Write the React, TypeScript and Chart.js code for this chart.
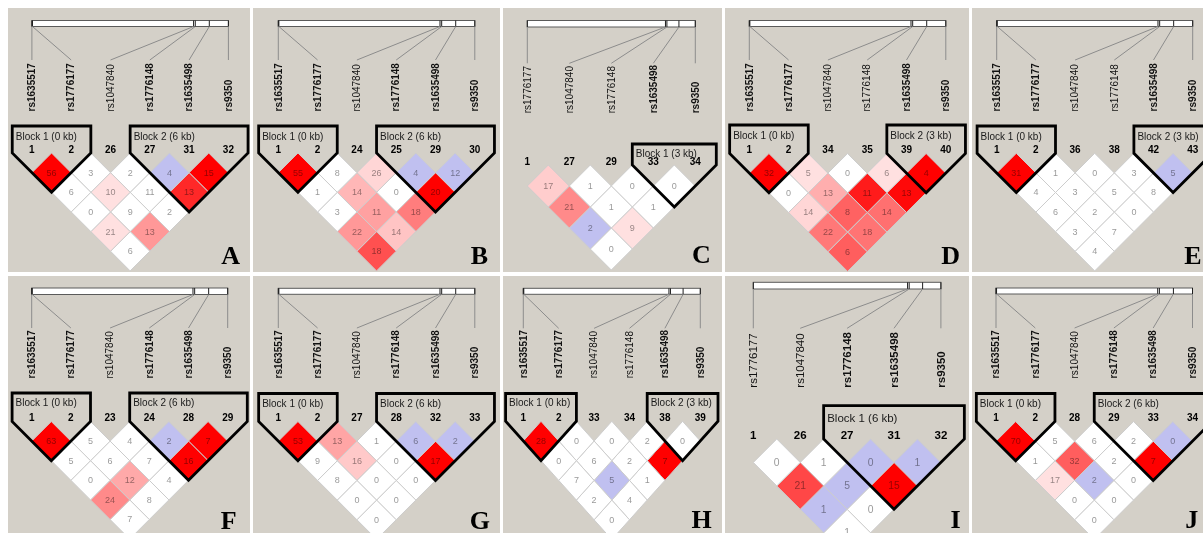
import React, { useEffect, useRef } from "react";
import { Chart, registerables } from "chart.js";

Chart.register(...registerables);

const SANS = '"Liberation Sans", Arial, Helvetica, sans-serif';
const SERIF = '"Liberation Serif", "Times New Roman", Times, serif';

// SNPs along the gene and their map positions (kb from the first SNP)
const snpNames = ["rs1635517", "rs1776177", "rs1047840", "rs1776148", "rs1635498", "rs9350"];
const snpKb = [0, 0.1, 28.8, 29.1, 31.6, 35.0];

// Each panel: SNPs shown (indices into snpNames), marker numbers, haplotype blocks,
// and pairwise r2 (x100), D' and LOD, stored row by row: row i holds pairs (i, i+1..n-1).

// ---- A ----
const markersA = [0, 1, 2, 3, 4, 5];
const idsA = [1, 2, 26, 27, 31, 32];
const blocksA = [[0, 1], [3, 5]];
const r2A = [[56, 6, 0, 21, 6], [3, 10, 9, 13], [2, 11, 2], [4, 13], [15]];
const dpA = [[1, 0.3, 0.2, 0.45, 0.3], [0.4, 0.45, 0.3, 0.66], [0.2, 0.4, 0.3], [1, 0.91], [1]];
const lodA = [[12, 0.6, 0.1, 3.1, 0.8], [0.4, 2.6, 1.1, 2.8], [0.3, 1.6, 0.4], [1.2, 2.9], [3.5]];

// ---- B ----
const markersB = [0, 1, 2, 3, 4, 5];
const idsB = [1, 2, 24, 25, 29, 30];
const blocksB = [[0, 1], [3, 5]];
const r2B = [[55, 1, 3, 22, 18], [8, 14, 11, 14], [26, 0, 18], [4, 20], [12]];
const dpB = [[1, 0.3, 0.4, 0.66, 0.82], [0.5, 0.59, 0.64, 0.56], [0.52, 0.1, 0.72], [1, 1], [1]];
const lodB = [[11, 0.2, 0.7, 3.5, 3.2], [1.4, 2.5, 2.4, 2.3], [4.2, 0.1, 2.9], [0.8, 3.6], [1.9]];

// ---- C ----
const markersC = [1, 2, 3, 4, 5];
const idsC = [1, 27, 29, 33, 34];
const blocksC = [[3, 4]];
const r2C = [[17, 21, 2, 0], [1, 1, 9], [0, 1], [0]];
const dpC = [[0.54, 0.69, 1, 0.2], [0.3, 0.4, 0.45], [0.1, 0.5], [0.6]];
const lodC = [[3.3, 4.1, 0.6, 0.1], [0.2, 0.3, 2.2], [0.1, 0.3], [0.4]];

// ---- D ----
const markersD = [0, 1, 2, 3, 4, 5];
const idsD = [1, 2, 34, 35, 39, 40];
const blocksD = [[0, 1], [4, 5]];
const r2D = [[32, 0, 14, 22, 6], [5, 13, 8, 18], [0, 11, 14], [6, 13], [4]];
const dpD = [[1, 0.2, 0.52, 0.73, 0.79], [0.45, 0.61, 0.78, 0.74], [0.1, 0.94, 0.75], [0.45, 0.98], [1]];
const lodD = [[8, 0.1, 3.6, 5.4, 2.1], [2.2, 3.3, 2.4, 4.6], [0.1, 3.1, 3.9], [2.1, 4.2], [2.4]];

// ---- E ----
const markersE = [0, 1, 2, 3, 4, 5];
const idsE = [1, 2, 36, 38, 42, 43];
const blocksE = [[0, 1], [4, 5]];
const r2E = [[31, 4, 6, 3, 4], [1, 3, 2, 7], [0, 5, 0], [3, 8], [5]];
const dpE = [[1, 0.5, 0.6, 0.4, 0.5], [0.3, 0.4, 0.3, 0.7], [0.1, 0.6, 0.1], [0.4, 0.6], [1]];
const lodE = [[7, 0.9, 1.2, 0.6, 0.8], [0.2, 0.6, 0.3, 1.3], [0.1, 0.9, 0.1], [0.5, 1.5], [1.1]];

// ---- F ----
const markersF = [0, 1, 2, 3, 4, 5];
const idsF = [1, 2, 23, 24, 28, 29];
const blocksF = [[0, 1], [3, 5]];
const r2F = [[63, 5, 0, 24, 7], [5, 6, 12, 8], [4, 7, 4], [2, 16], [7]];
const dpF = [[1, 0.5, 0.1, 0.69, 0.6], [0.5, 0.5, 0.62, 0.6], [0.4, 0.5, 0.4], [1, 1], [1]];
const lodF = [[14, 1.0, 0.1, 4.8, 1.4], [0.9, 1.2, 2.6, 1.6], [0.8, 1.4, 0.9], [0.6, 3.3], [2.2]];

// ---- G ----
const markersG = [0, 1, 2, 3, 4, 5];
const idsG = [1, 2, 27, 28, 32, 33];
const blocksG = [[0, 1], [3, 5]];
const r2G = [[53, 9, 8, 0, 0], [13, 16, 0, 0], [1, 0, 0], [6, 17], [2]];
const dpG = [[1, 0.6, 0.6, 0.1, 0.1], [0.63, 0.55, 0.1, 0.1], [0.3, 0.1, 0.1], [1, 1], [1]];
const lodG = [[11, 1.7, 1.5, 0.1, 0.1], [2.7, 3.1, 0.1, 0.1], [0.2, 0.1, 0.1], [1.1, 3.4], [0.5]];

// ---- H ----
const markersH = [0, 1, 2, 3, 4, 5];
const idsH = [1, 2, 33, 34, 38, 39];
const blocksH = [[0, 1], [4, 5]];
const r2H = [[28, 0, 7, 2, 0], [0, 6, 5, 4], [0, 2, 1], [2, 7], [0]];
const dpH = [[1, 0.1, 0.6, 0.3, 0.1], [0.1, 0.5, 1, 0.5], [0.1, 0.3, 0.2], [0.3, 1], [0.1]];
const lodH = [[6, 0.1, 1.3, 0.4, 0.1], [0.1, 1.2, 1.1, 0.8], [0.1, 0.4, 0.2], [0.4, 2.3], [0.1]];

// ---- I ----
const markersI = [1, 2, 3, 4, 5];
const idsI = [1, 26, 27, 31, 32];
const blocksI = [[2, 4]];
const r2I = [[0, 21, 1, 1], [1, 5, 0], [0, 15], [1]];
const dpI = [[0.1, 0.84, 1, 0.3], [0.3, 1, 0.1], [1, 1], [1]];
const lodI = [[0.1, 4.4, 0.3, 0.2], [0.2, 1.0, 0.1], [0.1, 3.0], [0.3]];

// ---- J ----
const markersJ = [0, 1, 2, 3, 4, 5];
const idsJ = [1, 2, 28, 29, 33, 34];
const blocksJ = [[0, 1], [3, 5]];
const r2J = [[70, 1, 17, 0, 0], [5, 32, 2, 0], [6, 2, 0], [2, 7], [0]];
const dpJ = [[1, 0.3, 0.45, 0.1, 0.1], [0.5, 0.79, 1, 0.1], [0.6, 0.3, 0.1], [0.4, 1], [1]];
const lodJ = [[16, 0.2, 2.9, 0.1, 0.1], [1.1, 6.2, 0.9, 0.1], [1.4, 0.4, 0.1], [0.5, 2.2], [0.3]];

type Layout = {
  left: number; top: number; width: number; height: number;
  x0: number; sx: number; sy: number; topLine: number;
  barTop: number; barH: number; lineEnd: number; labelBase: number;
  blockTop: number; blockText: number; fs: number; letterX: number; letterY: number;
};

type Panel = {
  letter: string; markers: number[]; ids: number[]; blocks: number[][];
  r2: number[][]; dp: number[][]; lod: number[][]; layout: Layout;
};

const base = { sx: 39.3, sy: 39.3, barTop: 12.5, barH: 6, lineEnd: 52, labelBase: 103.5, blockTop: 118, blockText: 129, fs: 1 };

const panels: Panel[] = [
  { letter: "A", markers: markersA, ids: idsA, blocks: blocksA, r2: r2A, dp: dpA, lod: lodA,
    layout: { ...base, left: 8, top: 8, width: 242, height: 264, x0: 23.9, topLine: 145, letterX: 232, letterY: 255.5 } },
  { letter: "B", markers: markersB, ids: idsB, blocks: blocksB, r2: r2B, dp: dpB, lod: lodB,
    layout: { ...base, left: 253, top: 8, width: 247, height: 264, x0: 25.3, topLine: 145, letterX: 235, letterY: 256 } },
  { letter: "C", markers: markersC, ids: idsC, blocks: blocksC, r2: r2C, dp: dpC, lod: lodC,
    layout: { ...base, left: 503, top: 8, width: 219, height: 264, x0: 24.3, sx: 42, sy: 42, topLine: 157,
      barH: 6.5, lineEnd: 55.3, labelBase: 105.3, blockTop: 136, blockText: 146.3, letterX: 207.7, letterY: 255.3 } },
  { letter: "D", markers: markersD, ids: idsD, blocks: blocksD, r2: r2D, dp: dpD, lod: lodD,
    layout: { ...base, left: 725, top: 8, width: 244, height: 264, x0: 24.3, topLine: 145.5, blockTop: 117, blockText: 128.7, letterX: 235, letterY: 255.5 } },
  { letter: "E", markers: markersE, ids: idsE, blocks: blocksE, r2: r2E, dp: dpE, lod: lodE,
    layout: { ...base, left: 972, top: 8, width: 250, height: 264, x0: 24.7, sx: 39.2, sy: 39.2, topLine: 145.3, letterX: 229.7, letterY: 255.5 } },
  { letter: "F", markers: markersF, ids: idsF, blocks: blocksF, r2: r2F, dp: dpF, lod: lodF,
    layout: { ...base, left: 8, top: 276, width: 242, height: 258, x0: 23.7, sx: 39.2, sy: 39.2, topLine: 145.5,
      barTop: 12, barH: 6.5, labelBase: 102.5, blockTop: 117, blockText: 127.5, letterX: 228.7, letterY: 252.5 } },
  { letter: "G", markers: markersG, ids: idsG, blocks: blocksG, r2: r2G, dp: dpG, lod: lodG,
    layout: { ...base, left: 253, top: 276, width: 247, height: 258, x0: 25.3, topLine: 145.5, barTop: 12.3,
      labelBase: 102.5, blockTop: 117.5, blockText: 128, letterX: 237, letterY: 252.5 } },
  { letter: "H", markers: markersH, ids: idsH, blocks: blocksH, r2: r2H, dp: dpH, lod: lodH,
    layout: { ...base, left: 503, top: 276, width: 219, height: 258, x0: 20.3, sx: 35.4, sy: 39.4, topLine: 145.3,
      barTop: 12.3, lineEnd: 52.3, labelBase: 102.3, blockTop: 117.5, blockText: 127.5, letterX: 208.7, letterY: 252.3 } },
  { letter: "I", markers: markersI, ids: idsI, blocks: blocksI, r2: r2I, dp: dpI, lod: lodI,
    layout: { ...base, left: 725, top: 276, width: 244, height: 258, x0: 28.3, sx: 46.9, sy: 46.9, topLine: 163,
      barTop: 6.3, barH: 6.7, lineEnd: 52.3, labelBase: 111.7, blockTop: 129.7, blockText: 143, fs: 1.15, letterX: 235.7, letterY: 252.3 } },
  { letter: "J", markers: markersJ, ids: idsJ, blocks: blocksJ, r2: r2J, dp: dpJ, lod: lodJ,
    layout: { ...base, left: 972, top: 276, width: 250, height: 258, x0: 24, topLine: 145.5, barTop: 12,
      labelBase: 102.5, blockTop: 117.5, blockText: 128, letterX: 226.3, letterY: 252.3 } },
];

// Haploview standard D'/LOD colour scheme
function ldColor(d: number, lod: number): string {
  if (lod >= 2) {
    if (d < 0.5) return "rgb(255,224,224)";
    const g = Math.round(446 * (1 - d));
    return `rgb(255,${g},${g})`;
  }
  if (d > 0.99) return "rgb(192,192,240)";
  return "#ffffff";
}

function makeOverlay(p: Panel) {
  return {
    id: "ldOverlay",
    afterDatasetsDraw(chart: any) {
      const { ctx } = chart;
      const xs = chart.scales.x;
      const ys = chart.scales.y;
      const L = p.layout;
      const fs = L.fs;
      const n = p.markers.length;
      const X = (v: number) => xs.getPixelForValue(v);
      const Y = (v: number) => ys.getPixelForValue(v);
      const inBlock = (k: number) => p.blocks.some(([a, b]) => k >= a && k <= b);

      ctx.save();

      // gene map bar with SNP ticks
      const left = X(0);
      const right = X(n - 1);
      const kb0 = snpKb[p.markers[0]];
      const kb1 = snpKb[p.markers[n - 1]];
      const gx = (k: number) => left + ((snpKb[p.markers[k]] - kb0) / (kb1 - kb0)) * (right - left);
      ctx.fillStyle = "#ffffff";
      ctx.fillRect(left, L.barTop, right - left, L.barH);
      ctx.lineWidth = 1;
      ctx.strokeStyle = "#5a5a5a";
      ctx.strokeRect(left, L.barTop, right - left, L.barH);
      ctx.strokeStyle = "#1e1e1e";
      for (let k = 0; k < n; k++) {
        ctx.beginPath();
        ctx.moveTo(gx(k), L.barTop);
        ctx.lineTo(gx(k), L.barTop + L.barH);
        ctx.stroke();
      }

      // connectors from map position to marker column
      ctx.strokeStyle = "#8c8c8c";
      for (let k = 0; k < n; k++) {
        ctx.beginPath();
        ctx.moveTo(gx(k), L.barTop + L.barH);
        ctx.lineTo(X(k), L.lineEnd);
        ctx.stroke();
      }

      // SNP names
      for (let k = 0; k < n; k++) {
        ctx.save();
        ctx.translate(X(k), L.labelBase);
        ctx.rotate(-Math.PI / 2);
        ctx.font = `${inBlock(k) ? "bold " : ""}${10 * fs}px ${SANS}`;
        ctx.fillStyle = "#111111";
        ctx.textAlign = "left";
        ctx.textBaseline = "middle";
        ctx.fillText(snpNames[p.markers[k]], 0, 0.5);
        ctx.restore();
      }

      // block captions
      ctx.font = `${10 * fs}px ${SANS}`;
      ctx.fillStyle = "#1a1a1a";
      ctx.textAlign = "left";
      ctx.textBaseline = "middle";
      p.blocks.forEach(([a, b], bi) => {
        const kb = Math.round(snpKb[p.markers[b]] - snpKb[p.markers[a]]);
        ctx.fillText(`Block ${bi + 1} (${kb} kb)`, X(a - 0.5) + 3.5, L.blockText);
      });

      // marker numbers
      ctx.font = `bold ${10 * fs}px ${SANS}`;
      ctx.fillStyle = "#000000";
      ctx.textAlign = "center";
      ctx.textBaseline = "alphabetic";
      p.ids.forEach((id, k) => ctx.fillText(String(id), X(k), Y(0) - 0.5));

      // r2 values in the cells
      ctx.font = `${9 * fs}px ${SANS}`;
      ctx.fillStyle = "rgba(0,0,0,0.42)";
      ctx.textAlign = "center";
      ctx.textBaseline = "middle";
      for (let i = 0; i < n; i++) {
        for (let j = i + 1; j < n; j++) {
          ctx.fillText(String(p.r2[i][j - i - 1]), X((i + j) / 2), Y((j - i) / 2) + 0.5);
        }
      }

      // panel letter
      ctx.font = `bold 26px ${SERIF}`;
      ctx.fillStyle = "#000000";
      ctx.textAlign = "right";
      ctx.textBaseline = "alphabetic";
      ctx.fillText(p.letter, L.letterX, L.letterY);

      ctx.restore();
    },
  };
}

function LDPanel({ p }: { p: Panel }) {
  const ref = useRef<HTMLCanvasElement>(null);

  useEffect(() => {
    const canvas = ref.current;
    if (!canvas) return;
    const L = p.layout;
    const n = p.markers.length;
    const datasets: any[] = [];

    // LD diamonds
    for (let i = 0; i < n; i++) {
      for (let j = i + 1; j < n; j++) {
        const cx = (i + j) / 2;
        const cy = (j - i) / 2;
        datasets.push({
          data: [
            { x: cx, y: cy - 0.5 },
            { x: cx + 0.5, y: cy },
            { x: cx, y: cy + 0.5 },
            { x: cx - 0.5, y: cy },
            { x: cx, y: cy - 0.5 },
          ],
          backgroundColor: ldColor(p.dp[i][j - i - 1], p.lod[i][j - i - 1]),
          borderColor: "#cccccc",
          borderWidth: 1,
          fill: "shape",
          pointRadius: 0,
          pointHoverRadius: 0,
          tension: 0,
          clip: false,
          order: 2,
        });
      }
    }

    // haplotype block outlines
    const topU = (L.blockTop - L.topLine) / L.sy;
    p.blocks.forEach(([a, b]) => {
      datasets.push({
        data: [
          { x: a - 0.5, y: topU },
          { x: a - 0.5, y: 0 },
          { x: (a + b) / 2, y: (b - a) / 2 + 0.5 },
          { x: b + 0.5, y: 0 },
          { x: b + 0.5, y: topU },
          { x: a - 0.5, y: topU },
        ],
        borderColor: "#000000",
        borderWidth: 2.8,
        borderJoinStyle: "miter",
        borderCapStyle: "square",
        fill: false,
        pointRadius: 0,
        pointHoverRadius: 0,
        tension: 0,
        clip: false,
        order: 1,
      });
    });

    const chart = new Chart(canvas, {
      type: "line",
      data: { datasets },
      options: {
        animation: false,
        responsive: false,
        devicePixelRatio: 1,
        events: [],
        layout: { padding: 0 },
        scales: {
          x: { type: "linear", display: false, min: -L.x0 / L.sx, max: (L.width - L.x0) / L.sx },
          y: { type: "linear", display: false, reverse: true, min: -L.topLine / L.sy, max: (L.height - L.topLine) / L.sy },
        },
        plugins: {
          legend: { display: false },
          tooltip: { enabled: false },
          title: { display: false },
          colors: { enabled: false },
        },
      } as any,
      plugins: [makeOverlay(p)],
    });
    return () => chart.destroy();
  }, [p]);

  const L = p.layout;
  return (
    <div
      style={{
        position: "absolute",
        left: L.left,
        top: L.top,
        width: L.width,
        height: L.height,
        background: "#d4d0c8",
        overflow: "hidden",
      }}
    >
      <canvas ref={ref} width={L.width} height={L.height} style={{ display: "block", width: L.width, height: L.height }} />
    </div>
  );
}

export default function App() {
  // the figure is pinned to the viewport so nothing scrolls or wraps
  return (
    <div style={{ position: "fixed", left: 0, top: 0, width: 1203, height: 533, overflow: "hidden", background: "#ffffff" }}>
      {panels.map((p) => (
        <LDPanel key={p.letter} p={p} />
      ))}
    </div>
  );
}
